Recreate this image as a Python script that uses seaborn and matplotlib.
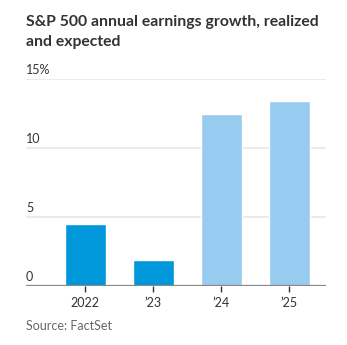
import matplotlib
matplotlib.use("Agg")
import matplotlib.pyplot as plt
import seaborn as sns
import pandas as pd

years = ["2022", "\u201923", "\u201924", "\u201925"]
growth = [4.5, 1.9, 12.5, 13.4]
status = ["realized", "realized", "expected", "expected"]
yticks = [0, 5, 10, 15]
ytick_labels = ["0", "5", "10", "15%"]

df = pd.DataFrame({"year": years, "growth": growth, "status": status})
palette = {"realized": "#0098db", "expected": "#97cbef"}

sns.set_theme(style="white")
plt.rcParams["font.family"] = ["Lato", "DejaVu Sans"]

W, H = 347, 345
fig = plt.figure(figsize=(W / 100, H / 100), dpi=100)
ax = fig.add_axes([26 / W, (H - 286) / H, (326 - 26) / W, (286 - 79) / H])

sns.barplot(data=df, x="year", y="growth", hue="status", palette=palette,
            dodge=False, width=0.6, saturation=1, legend=False, ax=ax)

ax.set_ylim(0, 15)
ax.set_xlim(-0.87, 3.54)
ax.set_xlabel("")
ax.set_ylabel("")

# horizontal gridlines with labels sitting above them
for v, lab in zip(yticks, ytick_labels):
    if v > 0:
        ax.axhline(v, color="#ebebeb", lw=1.5, zorder=0)
    ax.text(0, v + 0.2, lab, transform=ax.get_yaxis_transform(),
            ha="left", va="bottom", fontsize=9, color="#333333")
ax.set_yticks([])
ax.axhline(0, color="#888888", lw=1.6, zorder=3)

for s in ax.spines.values():
    s.set_visible(False)

ax.tick_params(axis="x", length=4, width=1, color="#333333", direction="out",
               labelsize=9, labelcolor="#333333", pad=4, bottom=True)

fig.text(26 / W, 1 - 32 / H, "S&P 500 annual earnings growth, realized\nand expected",
         ha="left", va="center", fontsize=11.3, fontweight="bold", color="#333333",
         linespacing=1.5)
fig.text(26 / W, 1 - 326 / H, "Source: FactSet", ha="left", va="center",
         fontsize=9, color="#666666")

fig.savefig("out.png", dpi=100)
